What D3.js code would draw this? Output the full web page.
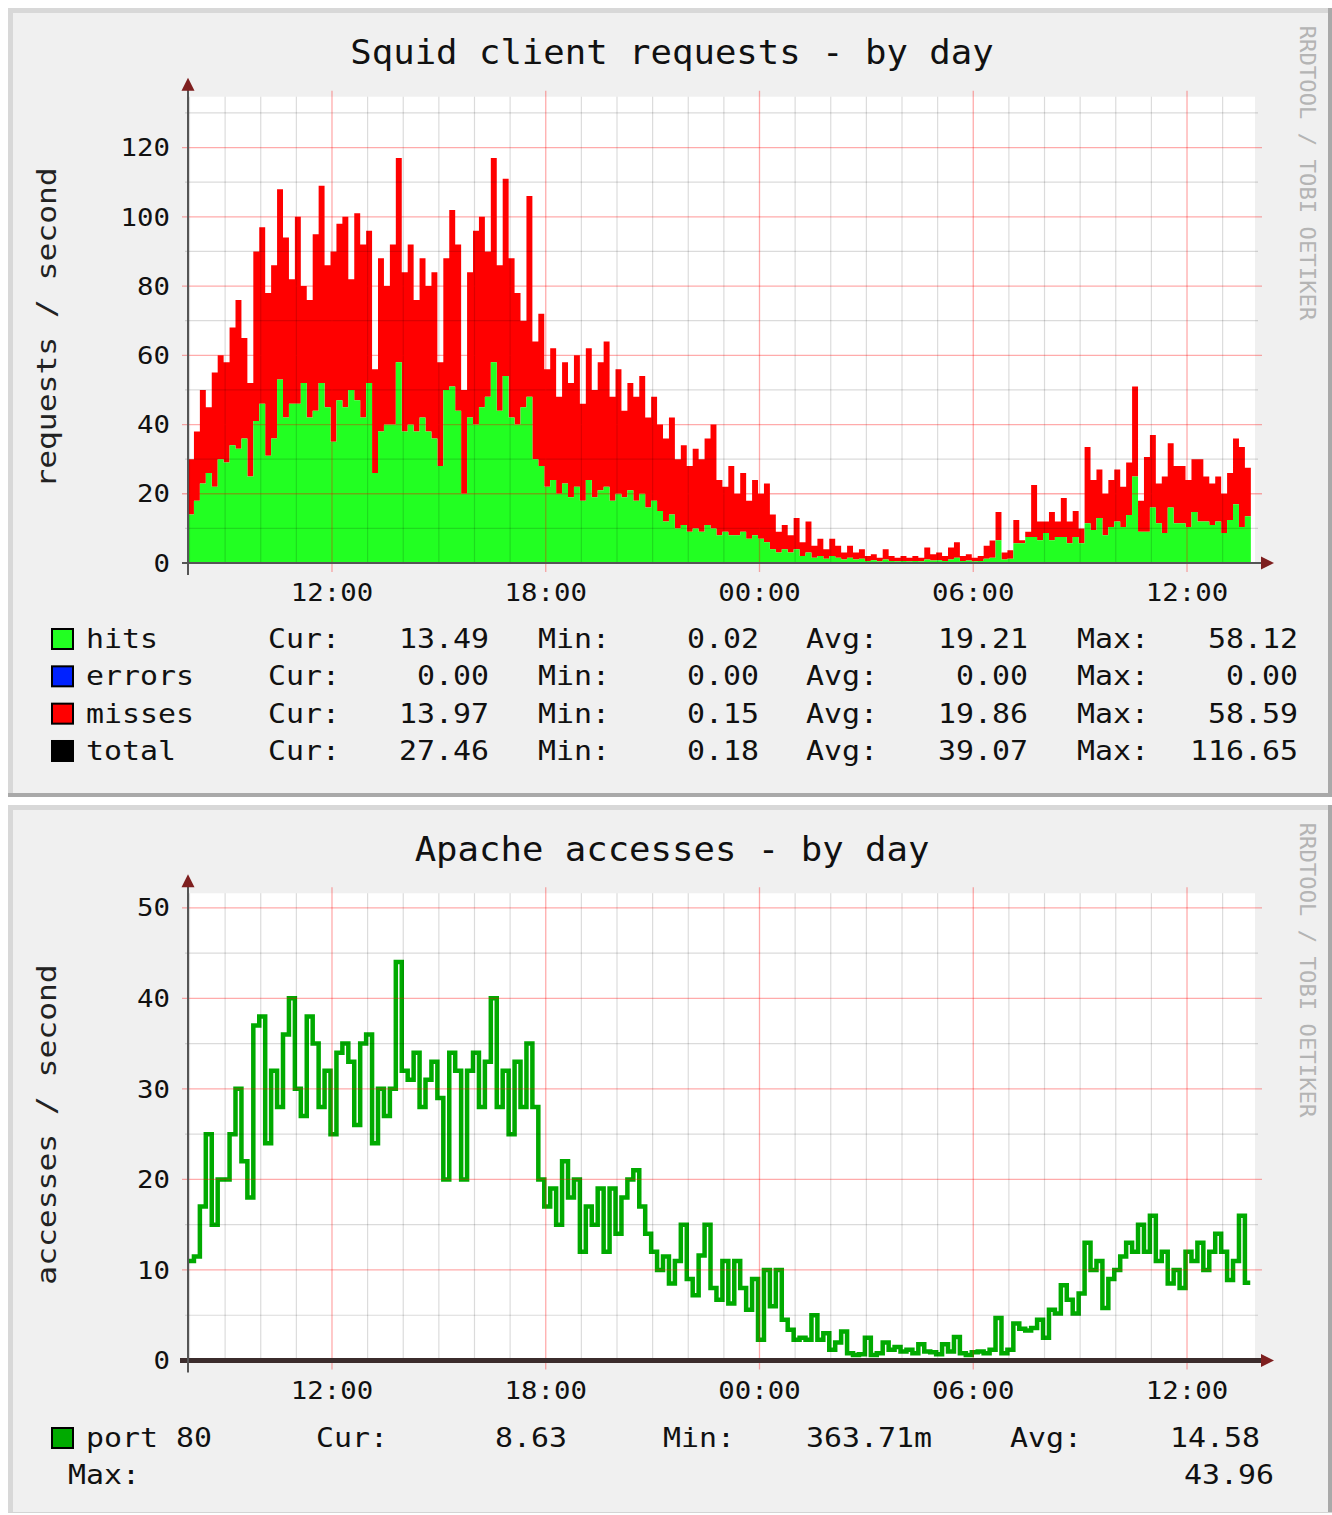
<!DOCTYPE html>
<html><head><meta charset="utf-8">
<script src="https://cdn.jsdelivr.net/npm/d3@7"></script>
<style>body{margin:0;background:#fff}svg{display:block}text{font-family:"DejaVu Sans Mono",monospace}</style>
</head><body><script>
// ---------- data ----------
const squidTitle = "Squid client requests - by day";
const apacheTitle = "Apache accesses - by day";
const squidYLabel = "requests / second";
const apacheYLabel = "accesses / second";
const watermark = "RRDTOOL / TOBI OETIKER";
const timeStart = "2011-01-01 07:57:30";
const timeEnd = "2011-01-02 13:54:30";
const sampleMinutes = 10;
const squidYMax = 134.7;
const squidMajor = [0, 20, 40, 60, 80, 100, 120];
const squidMinor = [10, 30, 50, 70, 90, 110, 130];
const apacheYMax = 51.6;
const apacheMajor = [0, 10, 20, 30, 40, 50];
const apacheMinor = [5, 15, 25, 35, 45];

// hits (green) and total (top of red misses stack), requests/second
const hits = [14,18,23,26,22,30,29,34,33,36,
 25,41,46,31,36,53,42,46,46,52,
 42,44,52,45,35,47,45,50,47,42,
 52,26,38,40,40,58,38,40,38,42,
 38,36,28,50,51,44,20,42,40,45,
 48,58,44,54,42,40,45,48,30,28,
 22,24,20,23,19,22,18,24,19,21,
 22,18,20,19,21,18,20,16,18,15,
 12,14,10,11,9,10,9,11,10,8,
 9,8,8,9,7,8,7,6,4,3,
 4,3,4,2,3,1.5,2,1.2,2,1.5,
 1,1.5,1,1.2,0.6,0.8,0.5,1,0.6,0.5,
 0.6,0.5,0.6,0.5,1,0.7,0.8,0.6,1,1.5,
 0.6,0.7,0.5,0.6,1.2,1.5,6.6,1,1.2,5.7,
 5.7,7.5,7.5,6.6,8.7,6.6,7.5,7.5,5.7,7.5,
 5.7,11.5,9.5,13,8,10.4,12,10.4,13.9,25,
 9,9,16,11.5,8.7,16,11.5,11.5,10.4,14.7,
 12,12,11,12,8.7,12.4,17,10.4,13.5];
const total = [30,38,50,45,55,60,58,68,76,65,
 52,90,97,78,86,108,94,82,100,80,
 76,95,109,86,90,98,100,82,101,92,
 96,56,88,80,92,117,84,92,76,88,
 80,84,58,88,102,92,50,84,96,100,
 90,117,86,111,88,78,70,106,64,72,
 56,62,48,58,52,60,46,62,50,58,
 64,48,56,44,52,48,54,42,48,40,
 36,42,30,34,28,33,30,36,40,24,
 22,28,20,26,18,24,20,23,14,9,
 11,8,13,6,12,5,7,4,7,5,
 3,5,3,4,2,2.5,1.5,4,2,1.5,
 2,1.5,2,1.5,4.5,2.5,3,2,4.5,6,
 2,2.5,1.5,2,5,6.5,14.7,3,3.7,12.4,
 6.6,9,22.5,12,12,14.7,12,18.8,12,15,
 10,33.5,24,27,20,24,27,22,29,51,
 18,30.6,37,23,25,34.6,28,28,24,30,
 30,25,23,25,20,26,36,33.5,27.5];
// apache port 80 accesses/second
const port80 = [11,11.5,17,25,15,20,20,25,30,22,
 18,37,38,24,32,28,36,40,30,27,
 38,35,28,32,25,34,35,33,26,35,
 36,24,30,27,30,44,32,31,34,28,
 31,33,29,20,34,32,20,32,34,28,
 33,40,28,32,25,33,28,35,28,20,
 17,19,15,22,18,20,12,17,15,19,
 12,19,14,18,20,21,17,14,12,10,
 11.5,8.5,11,15,9,7.2,11.6,15,8,6.7,
 11,6.3,11,8,5.6,9,2.3,10,6,10,
 4.5,3.4,2.3,2.5,2.3,5,2.3,3,1.2,2,
 3.2,0.8,0.6,0.7,2.5,0.6,0.8,2,1.2,1.5,
 1,1.2,0.8,1.8,1,0.9,0.7,1.8,1,2.6,
 0.8,0.6,0.9,1,0.8,1.2,4.7,0.8,1.2,4.1,
 3.5,3.3,3.6,4.5,2.5,5.6,5.2,8.3,6.7,5.2,
 7.4,13,10,11,5.8,9,10,11.5,13,12,
 15,12,16,11,12,8.5,10,8,12,11,
 13,10,12,14,12,8.9,11,16,8.6];

const legendNames = ["hits", "errors", "misses", "total"];
const legendColors = ["#22ff22", "#0022ff", "#ff0000", "#000000"];
const legendCur = ["13.49", "0.00", "13.97", "27.46"];
const legendMin = ["0.02", "0.00", "0.15", "0.18"];
const legendAvg = ["19.21", "0.00", "19.86", "39.07"];
const legendMax = ["58.12", "0.00", "58.59", "116.65"];
const apacheLegendName = "port 80";
const apacheColor = "#00aa00";
const apacheStats = {cur: "8.63", min: "363.71m", avg: "14.58", max: "43.96"};

// ---------- drawing ----------
const W = 1332, H = 1515;
const svg = d3.select("body").append("svg").attr("width", W).attr("height", H);
const parse = d3.timeParse("%Y-%m-%d %H:%M:%S");
const t0 = parse(timeStart), t1 = parse(timeEnd);
const x = d3.scaleTime().domain([t0, t1]).range([188, 1255]);
const fmt = d3.timeFormat("%H:%M");

function label(parent, str, px, py, o) {
  const g = parent.append("g")
    .attr("transform", `translate(${px},${py}) rotate(${o.rotate || 0}) scale(${o.sx || 1},1)`);
  g.append("text").attr("text-anchor", o.anchor || "start")
    .attr("font-size", o.size).attr("fill", o.fill || "#111").text(str);
}

function panel(y0, y1) {
  svg.append("rect").attr("x", 8).attr("y", y0).attr("width", W - 8).attr("height", y1 - y0).attr("fill", "#a9a9a9");
  svg.append("rect").attr("x", 8).attr("y", y0).attr("width", W - 8 - 4).attr("height", y1 - y0 - 4).attr("fill", "#d8d8d8");
  svg.append("rect").attr("x", 13).attr("y", y0 + 5).attr("width", W - 4 - 13).attr("height", y1 - y0 - 9).attr("fill", "#f0f0f0");
}

function plotBg(yScale) {
  const top = yScale.range()[1], bot = yScale.range()[0];
  const g = svg.append("g");
  g.append("rect").attr("x", 188).attr("y", top).attr("width", 1255 - 188).attr("height", bot - top).attr("fill", "#fff");
  return {g, top, bot};
}

function grid(g, yScale, major, minor, top, bot) {
  const minorC = "rgba(0,0,0,0.14)", majorC = "rgba(255,0,0,0.33)";
  minor.forEach(v => g.append("line").attr("x1", 185).attr("x2", 1258)
    .attr("y1", yScale(v)).attr("y2", yScale(v)).attr("stroke", minorC).attr("stroke-width", 1.2));
  const hours = d3.timeHour.every(1).range(t0, t1);
  const majors = d3.timeHour.every(6).range(t0, t1);
  hours.filter(h => h.getHours() % 6 !== 0).forEach(h => g.append("line")
    .attr("x1", x(h)).attr("x2", x(h)).attr("y1", top).attr("y2", bot)
    .attr("stroke", minorC).attr("stroke-width", 1.2));
  major.forEach(v => g.append("line").attr("x1", 182).attr("x2", 1262)
    .attr("y1", yScale(v)).attr("y2", yScale(v)).attr("stroke", majorC).attr("stroke-width", 1.3));
  majors.forEach(h => g.append("line").attr("x1", x(h)).attr("x2", x(h))
    .attr("y1", top - 6).attr("y2", bot + 9).attr("stroke", majorC).attr("stroke-width", 1.3));
  return majors;
}

function axesAndText(g, off, yScale, major, majors, top, bot, title, ylab, thick) {
  if (thick) {
    g.append("line").attr("x1", 180).attr("x2", 1262).attr("y1", bot).attr("y2", bot)
      .attr("stroke", "#3b2c2c").attr("stroke-width", 5);
  } else {
    g.append("line").attr("x1", 182).attr("x2", 1262).attr("y1", bot).attr("y2", bot)
      .attr("stroke", "#555").attr("stroke-width", 2);
  }
  g.append("line").attr("x1", 188).attr("x2", 188).attr("y1", bot + 12).attr("y2", top - 7)
    .attr("stroke", "#555").attr("stroke-width", 2);
  g.append("path").attr("d", `M181.5,${top - 6}L194.5,${top - 6}L188,${top - 19}Z`).attr("fill", "#7e1f1f");
  g.append("path").attr("d", `M1261,${bot - 6.5}L1261,${bot + 6.5}L1274,${bot}Z`).attr("fill", "#7e1f1f");
  major.forEach(v => label(g, String(v), 170, yScale(v) + 8.7, {size: 24, sx: 1.14, anchor: "end"}));
  majors.forEach(h => label(g, fmt(h), x(h), bot + 38, {size: 24, sx: 1.14, anchor: "middle"}));
  label(g, title, 672, 64 + off, {size: 33, sx: 1.08, anchor: "middle"});
  label(g, ylab, 56, 327.5 + off, {size: 27, sx: 1.16, anchor: "middle", rotate: -90, fill: "#222"});
  label(g, watermark, 1300, 173 + off, {size: 21, sx: 1.06, anchor: "middle", rotate: 90, fill: "#b4b4b4"});
}

// background panels
panel(8, 797);
panel(805, 1520);
svg.append("rect").attr("x", 0).attr("y", 1513).attr("width", W).attr("height", 2).attr("fill", "#fff");
svg.append("rect").attr("x", 8).attr("y", 1512).attr("width", W - 8).attr("height", 1).attr("fill", "#d4d4d4");

// ---- Squid chart ----
const ySq = d3.scaleLinear().domain([0, squidYMax]).range([563, 96.7]);
const f1 = plotBg(ySq);
const sqPts = hits.map((h, i) => ({t: d3.timeMinute.offset(t0, i * sampleMinutes), h, tot: total[i]}));
sqPts.push({t: d3.timeMinute.offset(t0, hits.length * sampleMinutes), h: hits[hits.length - 1], tot: total[total.length - 1]});
f1.g.append("path").datum(sqPts).attr("fill", "#ff0000")
  .attr("d", d3.area().curve(d3.curveStepAfter).x(d => x(d.t)).y0(d => ySq(d.h)).y1(d => ySq(d.tot)));
f1.g.append("path").datum(sqPts).attr("fill", "#22ff22")
  .attr("d", d3.area().curve(d3.curveStepAfter).x(d => x(d.t)).y0(ySq(0)).y1(d => ySq(d.h)));
const m1 = grid(f1.g, ySq, squidMajor, squidMinor, f1.top, f1.bot);
axesAndText(f1.g, 0, ySq, squidMajor, m1, f1.top, f1.bot, squidTitle, squidYLabel, false);

const lg = svg.append("g");
legendNames.forEach((n, i) => {
  const by = 648 + i * 37.33;
  lg.append("rect").attr("x", 52).attr("y", by - 19).attr("width", 21).attr("height", 20)
    .attr("fill", legendColors[i]).attr("stroke", "#000").attr("stroke-width", 2);
  const o = {size: 27, sx: 1.107};
  label(lg, n, 86, by, o);
  label(lg, "Cur:", 268, by, o);
  label(lg, legendCur[i], 489, by, {...o, anchor: "end"});
  label(lg, "Min:", 538, by, o);
  label(lg, legendMin[i], 759, by, {...o, anchor: "end"});
  label(lg, "Avg:", 806, by, o);
  label(lg, legendAvg[i], 1028, by, {...o, anchor: "end"});
  label(lg, "Max:", 1077, by, o);
  label(lg, legendMax[i], 1298, by, {...o, anchor: "end"});
});

// ---- Apache chart ----
const off2 = 797;
const yAp = d3.scaleLinear().domain([0, apacheYMax]).range([1360.5, 893.3]);
const f2 = plotBg(yAp);
const apPts = port80.map((v, i) => ({t: d3.timeMinute.offset(t0, i * sampleMinutes), v}));
apPts.push({t: d3.timeMinute.offset(t0, port80.length * sampleMinutes - 1), v: port80[port80.length - 1]});
f2.g.append("path").datum(apPts).attr("fill", "none").attr("stroke", apacheColor)
  .attr("stroke-width", 4.5).attr("stroke-linejoin", "miter")
  .attr("d", d3.line().curve(d3.curveStepAfter).x(d => x(d.t)).y(d => yAp(d.v)));
const m2 = grid(f2.g, yAp, apacheMajor, apacheMinor, f2.top, f2.bot);
axesAndText(f2.g, off2, yAp, apacheMajor, m2, f2.top, f2.bot, apacheTitle, apacheYLabel, true);

const lg2 = svg.append("g");
const o2 = {size: 27, sx: 1.107};
lg2.append("rect").attr("x", 52).attr("y", 1447 - 19).attr("width", 21).attr("height", 20)
  .attr("fill", apacheColor).attr("stroke", "#000").attr("stroke-width", 2);
label(lg2, apacheLegendName, 86, 1447, o2);
label(lg2, "Cur:", 316, 1447, o2);
label(lg2, apacheStats.cur, 567, 1447, {...o2, anchor: "end"});
label(lg2, "Min:", 663, 1447, o2);
label(lg2, apacheStats.min, 932, 1447, {...o2, anchor: "end"});
label(lg2, "Avg:", 1010, 1447, o2);
label(lg2, apacheStats.avg, 1260, 1447, {...o2, anchor: "end"});
label(lg2, "Max:", 68, 1484, o2);
label(lg2, apacheStats.max, 1274, 1484, {...o2, anchor: "end"});
</script></body></html>
